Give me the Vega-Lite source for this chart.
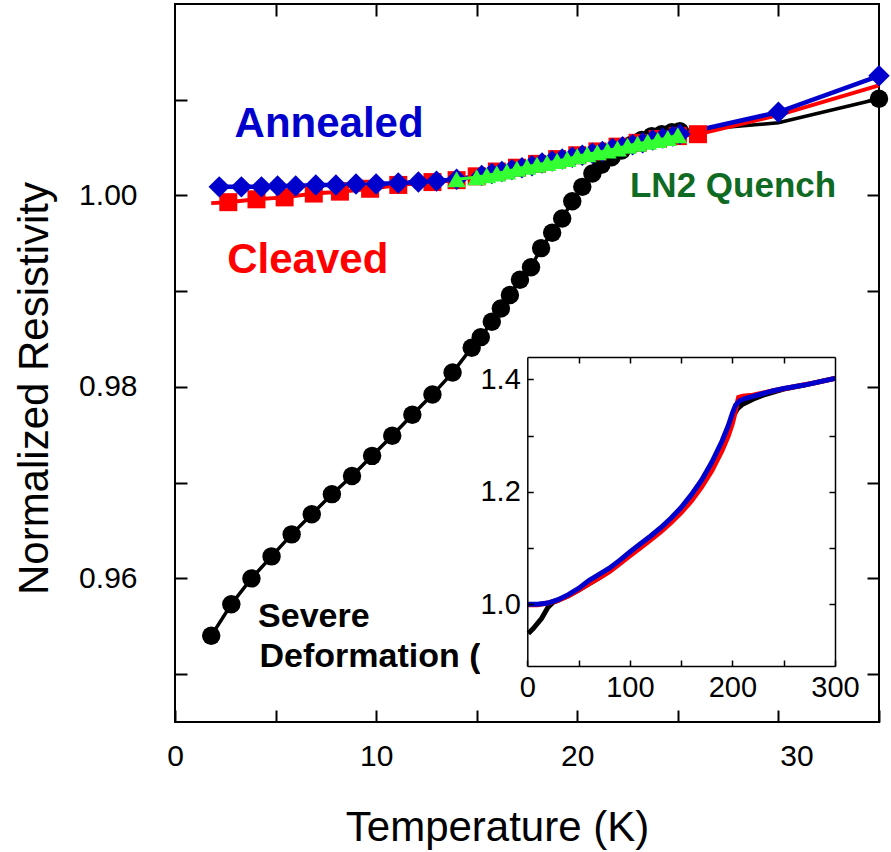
{
  "$schema": "https://vega.github.io/schema/vega-lite/v6.json",
  "width": 704,
  "height": 718,
  "autosize": {"type": "none"},
  "padding": {"left": 175, "top": 4, "right": 12, "bottom": 130},
  "background": "white",
  "config": {
    "view": {"stroke": "black", "strokeWidth": 2},
    "axis": {"grid": false, "labelFont": "Liberation Sans", "titleFont": "Liberation Sans", "labelColor": "black", "tickColor": "black", "domainColor": "black", "titleColor": "black", "titleFontWeight": "normal", "labelFlush": false, "labelOverlap": false}
  },
  "datasets": {
    "main": [
      {"s": "Severe", "T": 1.8, "R": 0.954},
      {"s": "Severe", "T": 2.8, "R": 0.9573},
      {"s": "Severe", "T": 3.8, "R": 0.96},
      {"s": "Severe", "T": 4.8, "R": 0.9623},
      {"s": "Severe", "T": 5.8, "R": 0.9646},
      {"s": "Severe", "T": 6.8, "R": 0.9667},
      {"s": "Severe", "T": 7.8, "R": 0.9688},
      {"s": "Severe", "T": 8.8, "R": 0.9707},
      {"s": "Severe", "T": 9.8, "R": 0.9728},
      {"s": "Severe", "T": 10.8, "R": 0.9749},
      {"s": "Severe", "T": 11.8, "R": 0.9771},
      {"s": "Severe", "T": 12.8, "R": 0.9792},
      {"s": "Severe", "T": 13.8, "R": 0.9815},
      {"s": "Severe", "T": 14.75, "R": 0.9841},
      {"s": "Severe", "T": 15.2, "R": 0.9852},
      {"s": "Severe", "T": 15.75, "R": 0.9868},
      {"s": "Severe", "T": 16.2, "R": 0.9882},
      {"s": "Severe", "T": 16.65, "R": 0.9896},
      {"s": "Severe", "T": 17.15, "R": 0.9912},
      {"s": "Severe", "T": 17.7, "R": 0.9925},
      {"s": "Severe", "T": 18.2, "R": 0.9945},
      {"s": "Severe", "T": 18.75, "R": 0.9961},
      {"s": "Severe", "T": 19.25, "R": 0.9976},
      {"s": "Severe", "T": 19.75, "R": 0.9994},
      {"s": "Severe", "T": 20.25, "R": 1.0009},
      {"s": "Severe", "T": 20.75, "R": 1.0023},
      {"s": "Severe", "T": 21.2, "R": 1.0032},
      {"s": "Severe", "T": 21.7, "R": 1.004},
      {"s": "Severe", "T": 22.2, "R": 1.0047},
      {"s": "Severe", "T": 22.7, "R": 1.0053},
      {"s": "Severe", "T": 23.2, "R": 1.0058},
      {"s": "Severe", "T": 23.7, "R": 1.0062},
      {"s": "Severe", "T": 24.2, "R": 1.0064},
      {"s": "Severe", "T": 24.7, "R": 1.0066},
      {"s": "Severe", "T": 25.1, "R": 1.0067},
      {"s": "Severe", "T": 30, "R": 1.0076},
      {"s": "Severe", "T": 35, "R": 1.0101},
      {"s": "Annealed", "T": 2.2, "R": 1.0009},
      {"s": "Annealed", "T": 3.3, "R": 1.0009},
      {"s": "Annealed", "T": 4.3, "R": 1.0009},
      {"s": "Annealed", "T": 5.1, "R": 1.001},
      {"s": "Annealed", "T": 6.0, "R": 1.001},
      {"s": "Annealed", "T": 7.0, "R": 1.0011},
      {"s": "Annealed", "T": 8.0, "R": 1.0011},
      {"s": "Annealed", "T": 9.0, "R": 1.0012},
      {"s": "Annealed", "T": 10.0, "R": 1.0012},
      {"s": "Annealed", "T": 11.1, "R": 1.0013},
      {"s": "Annealed", "T": 12.1, "R": 1.0014},
      {"s": "Annealed", "T": 13.0, "R": 1.0015},
      {"s": "Annealed", "T": 14.0, "R": 1.0017},
      {"s": "Annealed", "T": 15.25, "R": 1.0021},
      {"s": "Annealed", "T": 15.75, "R": 1.0023},
      {"s": "Annealed", "T": 16.25, "R": 1.0025},
      {"s": "Annealed", "T": 16.75, "R": 1.0027},
      {"s": "Annealed", "T": 17.25, "R": 1.0029},
      {"s": "Annealed", "T": 17.75, "R": 1.0031},
      {"s": "Annealed", "T": 18.25, "R": 1.0034},
      {"s": "Annealed", "T": 18.75, "R": 1.0036},
      {"s": "Annealed", "T": 19.25, "R": 1.0038},
      {"s": "Annealed", "T": 19.75, "R": 1.004},
      {"s": "Annealed", "T": 20.25, "R": 1.0042},
      {"s": "Annealed", "T": 20.75, "R": 1.0044},
      {"s": "Annealed", "T": 21.25, "R": 1.0046},
      {"s": "Annealed", "T": 21.75, "R": 1.0049},
      {"s": "Annealed", "T": 22.25, "R": 1.0051},
      {"s": "Annealed", "T": 22.75, "R": 1.0053},
      {"s": "Annealed", "T": 23.25, "R": 1.0055},
      {"s": "Annealed", "T": 23.75, "R": 1.0058},
      {"s": "Annealed", "T": 24.25, "R": 1.006},
      {"s": "Annealed", "T": 24.75, "R": 1.0062},
      {"s": "Annealed", "T": 25.1, "R": 1.0064},
      {"s": "Annealed", "T": 30, "R": 1.0087},
      {"s": "Annealed", "T": 35, "R": 1.0125},
      {"s": "Cleaved", "T": 1.8, "R": 0.9992},
      {"s": "Cleaved", "T": 2.65, "R": 0.9993},
      {"s": "Cleaved", "T": 4.05, "R": 0.9996},
      {"s": "Cleaved", "T": 5.45, "R": 0.9998},
      {"s": "Cleaved", "T": 6.9, "R": 1.0002},
      {"s": "Cleaved", "T": 8.2, "R": 1.0004},
      {"s": "Cleaved", "T": 9.7, "R": 1.0007},
      {"s": "Cleaved", "T": 11.1, "R": 1.0011},
      {"s": "Cleaved", "T": 12.8, "R": 1.0014},
      {"s": "Cleaved", "T": 14.0, "R": 1.0016},
      {"s": "Cleaved", "T": 15.0, "R": 1.0020},
      {"s": "Cleaved", "T": 16.0, "R": 1.0025},
      {"s": "Cleaved", "T": 17.0, "R": 1.0029},
      {"s": "Cleaved", "T": 18.0, "R": 1.0033},
      {"s": "Cleaved", "T": 19.0, "R": 1.0038},
      {"s": "Cleaved", "T": 20.0, "R": 1.0042},
      {"s": "Cleaved", "T": 21.0, "R": 1.0046},
      {"s": "Cleaved", "T": 22.0, "R": 1.0051},
      {"s": "Cleaved", "T": 23.0, "R": 1.0055},
      {"s": "Cleaved", "T": 24.0, "R": 1.0059},
      {"s": "Cleaved", "T": 25.0, "R": 1.0062},
      {"s": "Cleaved", "T": 26.0, "R": 1.0064},
      {"s": "Cleaved", "T": 30, "R": 1.0084},
      {"s": "Cleaved", "T": 35, "R": 1.0115},
      {"s": "LN2", "T": 14.0, "R": 1.0017},
      {"s": "LN2", "T": 15.0, "R": 1.0019},
      {"s": "LN2", "T": 15.5, "R": 1.0021},
      {"s": "LN2", "T": 16.0, "R": 1.0023},
      {"s": "LN2", "T": 16.5, "R": 1.0025},
      {"s": "LN2", "T": 17.0, "R": 1.0028},
      {"s": "LN2", "T": 17.5, "R": 1.003},
      {"s": "LN2", "T": 18.0, "R": 1.0032},
      {"s": "LN2", "T": 18.5, "R": 1.0034},
      {"s": "LN2", "T": 19.0, "R": 1.0036},
      {"s": "LN2", "T": 19.5, "R": 1.0038},
      {"s": "LN2", "T": 20.0, "R": 1.0041},
      {"s": "LN2", "T": 20.5, "R": 1.0043},
      {"s": "LN2", "T": 21.0, "R": 1.0045},
      {"s": "LN2", "T": 21.5, "R": 1.0047},
      {"s": "LN2", "T": 22.0, "R": 1.0049},
      {"s": "LN2", "T": 22.5, "R": 1.0052},
      {"s": "LN2", "T": 23.0, "R": 1.0054},
      {"s": "LN2", "T": 23.5, "R": 1.0056},
      {"s": "LN2", "T": 24.0, "R": 1.0058},
      {"s": "LN2", "T": 24.5, "R": 1.006},
      {"s": "LN2", "T": 25.0, "R": 1.0063}
    ],
    "inset": [
      {"s": "Severe", "T": 1, "R": 0.948},
      {"s": "Severe", "T": 6, "R": 0.957},
      {"s": "Severe", "T": 14, "R": 0.975},
      {"s": "Severe", "T": 20, "R": 0.994},
      {"s": "Severe", "T": 25, "R": 1.003},
      {"s": "Severe", "T": 30, "R": 1.007},
      {"s": "Severe", "T": 40, "R": 1.015},
      {"s": "Severe", "T": 50, "R": 1.025},
      {"s": "Severe", "T": 60, "R": 1.036},
      {"s": "Severe", "T": 70, "R": 1.047},
      {"s": "Severe", "T": 80, "R": 1.059},
      {"s": "Severe", "T": 90, "R": 1.073},
      {"s": "Severe", "T": 100, "R": 1.088},
      {"s": "Severe", "T": 110, "R": 1.102},
      {"s": "Severe", "T": 120, "R": 1.117},
      {"s": "Severe", "T": 130, "R": 1.132},
      {"s": "Severe", "T": 140, "R": 1.149},
      {"s": "Severe", "T": 150, "R": 1.168},
      {"s": "Severe", "T": 160, "R": 1.19},
      {"s": "Severe", "T": 170, "R": 1.217},
      {"s": "Severe", "T": 180, "R": 1.249},
      {"s": "Severe", "T": 190, "R": 1.287},
      {"s": "Severe", "T": 196, "R": 1.313},
      {"s": "Severe", "T": 200, "R": 1.333},
      {"s": "Severe", "T": 205, "R": 1.348},
      {"s": "Severe", "T": 210, "R": 1.356},
      {"s": "Severe", "T": 220, "R": 1.365},
      {"s": "Severe", "T": 230, "R": 1.372},
      {"s": "Severe", "T": 250, "R": 1.383},
      {"s": "Severe", "T": 270, "R": 1.39},
      {"s": "Severe", "T": 300, "R": 1.402},
      {"s": "Cleaved", "T": 0, "R": 0.999},
      {"s": "Cleaved", "T": 10, "R": 0.999},
      {"s": "Cleaved", "T": 20, "R": 1.002},
      {"s": "Cleaved", "T": 30, "R": 1.007},
      {"s": "Cleaved", "T": 40, "R": 1.015},
      {"s": "Cleaved", "T": 50, "R": 1.025},
      {"s": "Cleaved", "T": 60, "R": 1.036},
      {"s": "Cleaved", "T": 70, "R": 1.047},
      {"s": "Cleaved", "T": 80, "R": 1.058},
      {"s": "Cleaved", "T": 90, "R": 1.072},
      {"s": "Cleaved", "T": 100, "R": 1.086},
      {"s": "Cleaved", "T": 110, "R": 1.1},
      {"s": "Cleaved", "T": 120, "R": 1.114},
      {"s": "Cleaved", "T": 130, "R": 1.129},
      {"s": "Cleaved", "T": 140, "R": 1.145},
      {"s": "Cleaved", "T": 150, "R": 1.163},
      {"s": "Cleaved", "T": 160, "R": 1.184},
      {"s": "Cleaved", "T": 170, "R": 1.209},
      {"s": "Cleaved", "T": 180, "R": 1.238},
      {"s": "Cleaved", "T": 190, "R": 1.274},
      {"s": "Cleaved", "T": 196, "R": 1.3},
      {"s": "Cleaved", "T": 200, "R": 1.322},
      {"s": "Cleaved", "T": 203, "R": 1.345},
      {"s": "Cleaved", "T": 206, "R": 1.368},
      {"s": "Cleaved", "T": 210, "R": 1.37},
      {"s": "Cleaved", "T": 220, "R": 1.372},
      {"s": "Cleaved", "T": 240, "R": 1.38},
      {"s": "Cleaved", "T": 260, "R": 1.387},
      {"s": "Cleaved", "T": 280, "R": 1.394},
      {"s": "Cleaved", "T": 300, "R": 1.402},
      {"s": "Annealed", "T": 0, "R": 1.0},
      {"s": "Annealed", "T": 10, "R": 1.0},
      {"s": "Annealed", "T": 20, "R": 1.002},
      {"s": "Annealed", "T": 30, "R": 1.008},
      {"s": "Annealed", "T": 40, "R": 1.017},
      {"s": "Annealed", "T": 50, "R": 1.028},
      {"s": "Annealed", "T": 60, "R": 1.042},
      {"s": "Annealed", "T": 70, "R": 1.053},
      {"s": "Annealed", "T": 80, "R": 1.064},
      {"s": "Annealed", "T": 90, "R": 1.078},
      {"s": "Annealed", "T": 100, "R": 1.093},
      {"s": "Annealed", "T": 110, "R": 1.107},
      {"s": "Annealed", "T": 120, "R": 1.121},
      {"s": "Annealed", "T": 130, "R": 1.136},
      {"s": "Annealed", "T": 140, "R": 1.153},
      {"s": "Annealed", "T": 150, "R": 1.172},
      {"s": "Annealed", "T": 160, "R": 1.195},
      {"s": "Annealed", "T": 170, "R": 1.221},
      {"s": "Annealed", "T": 180, "R": 1.253},
      {"s": "Annealed", "T": 190, "R": 1.291},
      {"s": "Annealed", "T": 196, "R": 1.318},
      {"s": "Annealed", "T": 200, "R": 1.34},
      {"s": "Annealed", "T": 203, "R": 1.354},
      {"s": "Annealed", "T": 207, "R": 1.362},
      {"s": "Annealed", "T": 212, "R": 1.366},
      {"s": "Annealed", "T": 220, "R": 1.37},
      {"s": "Annealed", "T": 230, "R": 1.375},
      {"s": "Annealed", "T": 240, "R": 1.38},
      {"s": "Annealed", "T": 250, "R": 1.384},
      {"s": "Annealed", "T": 260, "R": 1.387},
      {"s": "Annealed", "T": 270, "R": 1.39},
      {"s": "Annealed", "T": 280, "R": 1.394},
      {"s": "Annealed", "T": 290, "R": 1.398},
      {"s": "Annealed", "T": 300, "R": 1.402}
    ],
    "notes": [
      {"label": "Annealed", "T": 7.66, "R": 1.0061},
      {"label": "Cleaved", "T": 6.6, "R": 0.9919},
      {"label": "LN2 Quench", "T": 22.62, "R": 0.99985},
      {"label": "Severe", "T": 4.13, "R": 0.9549},
      {"label": "Deformation (", "T": 4.2, "R": 0.9507}
    ]
  },
  "resolve": {"scale": {"x": "independent", "y": "independent"}},
  "layer": [
    {
      "data": {"name": "main"},
      "transform": [{"filter": "datum.s == 'Severe'"}],
      "mark": {"type": "line", "color": "black", "strokeWidth": 3.5},
      "encoding": {
        "x": {"field": "T", "type": "quantitative", "scale": {"domain": [0, 35], "nice": false, "zero": false},
          "axis": {"orient": "bottom", "values": [0, 5, 10, 15, 20, 25, 30, 35], "tickSize": -12, "tickWidth": 2, "domain": false, "labelFontSize": 30, "labelPadding": 31, "labelExpr": "datum.value % 10 == 0 ? datum.label : ''", "labelOffset": {"expr": "datum.value == 30 ? 18 : 0"}, "title": "Temperature (K)", "titleFontSize": 42, "titleX": 322, "titleY": 118, "titleBaseline": "alphabetic", "titleAlign": "center"}},
        "y": {"field": "R", "type": "quantitative", "scale": {"domain": [0.945, 1.02], "nice": false, "zero": false},
          "axis": {"orient": "left", "values": [0.95, 0.96, 0.97, 0.98, 0.99, 1.0, 1.01], "tickSize": -12, "tickWidth": 2, "domain": false, "labelFontSize": 30, "labelPadding": 50, "labelExpr": "abs(round(datum.value*100)) % 2 == 0 ? format(datum.value, '.2f') : ''", "title": "Normalized Resistivity", "titleFontSize": 42, "titleX": -128, "titleY": 384, "titleBaseline": "alphabetic", "titleAlign": "center", "titleAngle": 270}}
      }
    },
    {
      "data": {"name": "main"},
      "transform": [{"filter": "datum.s == 'Severe' && datum.T != 30"}],
      "mark": {"type": "point", "shape": "circle", "filled": true, "color": "black", "opacity": 1, "size": 340},
      "encoding": {
        "x": {"field": "T", "type": "quantitative", "scale": {"domain": [0, 35], "nice": false, "zero": false},
          "axis": {"orient": "top", "values": [5, 10, 15, 20, 25, 30], "tickSize": -12, "tickWidth": 2, "domain": false, "labels": false, "title": null}},
        "y": {"field": "R", "type": "quantitative", "scale": {"domain": [0.945, 1.02], "nice": false, "zero": false},
          "axis": {"orient": "right", "values": [0.95, 0.96, 0.97, 0.98, 0.99, 1.0, 1.01], "tickSize": -12, "tickWidth": 2, "domain": false, "labels": false, "title": null}}
      }
    },
    {
      "data": {"name": "main"},
      "transform": [{"filter": "datum.s == 'Cleaved'"}],
      "mark": {"type": "line", "color": "#ff0000", "strokeWidth": 4},
      "encoding": {
        "x": {"field": "T", "type": "quantitative", "scale": {"domain": [0, 35], "nice": false, "zero": false}, "axis": null},
        "y": {"field": "R", "type": "quantitative", "scale": {"domain": [0.945, 1.02], "nice": false, "zero": false}, "axis": null}
      }
    },
    {
      "data": {"name": "main"},
      "transform": [{"filter": "datum.s == 'Annealed'"}],
      "mark": {"type": "line", "color": "#0000cc", "strokeWidth": 4.5},
      "encoding": {
        "x": {"field": "T", "type": "quantitative", "scale": {"domain": [0, 35], "nice": false, "zero": false}, "axis": null},
        "y": {"field": "R", "type": "quantitative", "scale": {"domain": [0.945, 1.02], "nice": false, "zero": false}, "axis": null}
      }
    },
    {
      "data": {"name": "main"},
      "transform": [{"filter": "datum.s == 'Cleaved' && datum.T > 2 && datum.T < 28"}],
      "mark": {"type": "point", "shape": "square", "filled": true, "color": "#ff0000", "opacity": 1, "size": 324},
      "encoding": {
        "x": {"field": "T", "type": "quantitative", "scale": {"domain": [0, 35], "nice": false, "zero": false}, "axis": null},
        "y": {"field": "R", "type": "quantitative", "scale": {"domain": [0.945, 1.02], "nice": false, "zero": false}, "axis": null}
      }
    },
    {
      "data": {"name": "main"},
      "transform": [{"filter": "datum.s == 'Annealed'"}],
      "mark": {"type": "point", "shape": "diamond", "filled": true, "color": "#0000cc", "opacity": 1, "size": 460},
      "encoding": {
        "x": {"field": "T", "type": "quantitative", "scale": {"domain": [0, 35], "nice": false, "zero": false}, "axis": null},
        "y": {"field": "R", "type": "quantitative", "scale": {"domain": [0.945, 1.02], "nice": false, "zero": false}, "axis": null}
      }
    },
    {
      "data": {"name": "main"},
      "transform": [{"filter": "datum.s == 'LN2'"}],
      "mark": {"type": "line", "color": "#33ff33", "strokeWidth": 3},
      "encoding": {
        "x": {"field": "T", "type": "quantitative", "scale": {"domain": [0, 35], "nice": false, "zero": false}, "axis": null},
        "y": {"field": "R", "type": "quantitative", "scale": {"domain": [0.945, 1.02], "nice": false, "zero": false}, "axis": null}
      }
    },
    {
      "data": {"name": "main"},
      "transform": [{"filter": "datum.s == 'LN2'"}],
      "mark": {"type": "point", "shape": "triangle-up", "filled": true, "color": "#33ff33", "opacity": 1, "size": 340},
      "encoding": {
        "x": {"field": "T", "type": "quantitative", "scale": {"domain": [0, 35], "nice": false, "zero": false}, "axis": null},
        "y": {"field": "R", "type": "quantitative", "scale": {"domain": [0.945, 1.02], "nice": false, "zero": false}, "axis": null}
      }
    },
    {
      "data": {"name": "notes"},
      "transform": [{"filter": "datum.label == 'Annealed'"}],
      "mark": {"type": "text", "font": "Liberation Sans", "fontWeight": "bold", "fontSize": 42, "color": "#0000cc", "align": "center", "baseline": "alphabetic"},
      "encoding": {
        "x": {"field": "T", "type": "quantitative", "scale": {"domain": [0, 35], "nice": false, "zero": false}, "axis": null},
        "y": {"field": "R", "type": "quantitative", "scale": {"domain": [0.945, 1.02], "nice": false, "zero": false}, "axis": null},
        "text": {"field": "label"}
      }
    },
    {
      "data": {"name": "notes"},
      "transform": [{"filter": "datum.label == 'Cleaved'"}],
      "mark": {"type": "text", "font": "Liberation Sans", "fontWeight": "bold", "fontSize": 42, "color": "#ff0000", "align": "center", "baseline": "alphabetic"},
      "encoding": {
        "x": {"field": "T", "type": "quantitative", "scale": {"domain": [0, 35], "nice": false, "zero": false}, "axis": null},
        "y": {"field": "R", "type": "quantitative", "scale": {"domain": [0.945, 1.02], "nice": false, "zero": false}, "axis": null},
        "text": {"field": "label"}
      }
    },
    {
      "data": {"name": "notes"},
      "transform": [{"filter": "datum.label == 'LN2 Quench'"}],
      "mark": {"type": "text", "font": "Liberation Sans", "fontWeight": "bold", "fontSize": 35, "color": "#0f6a24", "align": "left", "baseline": "alphabetic"},
      "encoding": {
        "x": {"field": "T", "type": "quantitative", "scale": {"domain": [0, 35], "nice": false, "zero": false}, "axis": null},
        "y": {"field": "R", "type": "quantitative", "scale": {"domain": [0.945, 1.02], "nice": false, "zero": false}, "axis": null},
        "text": {"field": "label"}
      }
    },
    {
      "data": {"name": "notes"},
      "transform": [{"filter": "datum.label == 'Severe' || datum.label == 'Deformation ('"}],
      "mark": {"type": "text", "font": "Liberation Sans", "fontWeight": "bold", "fontSize": 34, "color": "black", "align": "left", "baseline": "alphabetic"},
      "encoding": {
        "x": {"field": "T", "type": "quantitative", "scale": {"domain": [0, 35], "nice": false, "zero": false}, "axis": null},
        "y": {"field": "R", "type": "quantitative", "scale": {"domain": [0.945, 1.02], "nice": false, "zero": false}, "axis": null},
        "text": {"field": "label"}
      }
    },
    {
      "data": {"values": [{}]},
      "mark": {"type": "rect", "color": "white", "opacity": 1},
      "encoding": {
        "x": {"datum": -46, "type": "quantitative", "scale": {"domain": [0, 300], "range": [352.3, 660], "nice": false, "zero": false}, "axis": null},
        "x2": {"datum": 307},
        "y": {"datum": 0.829, "type": "quantitative", "scale": {"domain": [0.89, 1.44], "range": [662, 353], "nice": false, "zero": false}, "axis": null},
        "y2": {"datum": 1.449}
      }
    },
    {
      "data": {"name": "inset"},
      "transform": [{"filter": "datum.s == 'Severe'"}],
      "mark": {"type": "line", "color": "black", "strokeWidth": 5},
      "encoding": {
        "x": {"field": "T", "type": "quantitative", "scale": {"domain": [0, 300], "range": [352.3, 660], "nice": false, "zero": false},
          "axis": {"orient": "bottom", "offset": -56, "zindex": 2, "values": [0, 50, 100, 150, 200, 250, 300], "tickSize": -6, "tickWidth": 1.5, "domain": true, "domainWidth": 1.5, "labelFontSize": 29, "labelPadding": 13, "labelExpr": "datum.value % 100 == 0 ? datum.label : ''", "title": null}},
        "y": {"field": "R", "type": "quantitative", "scale": {"domain": [0.89, 1.44], "range": [662, 353], "nice": false, "zero": false},
          "axis": {"orient": "left", "offset": -352.3, "zindex": 2, "values": [1.0, 1.1, 1.2, 1.3, 1.4], "tickSize": -6, "tickWidth": 1.5, "domain": true, "domainWidth": 1.5, "labelFontSize": 29, "labelPadding": 13, "labelExpr": "round(datum.value*10) % 2 == 0 ? format(datum.value, '.1f') : ''", "title": null}}
      }
    },
    {
      "data": {"name": "inset"},
      "transform": [{"filter": "datum.s == 'Cleaved'"}],
      "mark": {"type": "line", "color": "#ff0000", "strokeWidth": 5},
      "encoding": {
        "x": {"field": "T", "type": "quantitative", "scale": {"domain": [0, 300], "range": [352.3, 660], "nice": false, "zero": false},
          "axis": {"orient": "top", "offset": -353, "zindex": 2, "values": [50, 100, 150, 200, 250], "tickSize": -6, "tickWidth": 1.5, "domain": true, "domainWidth": 1.5, "labels": false, "title": null}},
        "y": {"field": "R", "type": "quantitative", "scale": {"domain": [0.89, 1.44], "range": [662, 353], "nice": false, "zero": false},
          "axis": {"orient": "right", "offset": -44, "zindex": 2, "values": [1.0, 1.1, 1.2, 1.3], "tickSize": -6, "tickWidth": 1.5, "domain": true, "domainWidth": 1.5, "labels": false, "title": null}}
      }
    },
    {
      "data": {"name": "inset"},
      "transform": [{"filter": "datum.s == 'Annealed'"}],
      "mark": {"type": "line", "color": "#0000cc", "strokeWidth": 5},
      "encoding": {
        "x": {"field": "T", "type": "quantitative", "scale": {"domain": [0, 300], "range": [352.3, 660], "nice": false, "zero": false}, "axis": null},
        "y": {"field": "R", "type": "quantitative", "scale": {"domain": [0.89, 1.44], "range": [662, 353], "nice": false, "zero": false}, "axis": null}
      }
    }
  ]
}
